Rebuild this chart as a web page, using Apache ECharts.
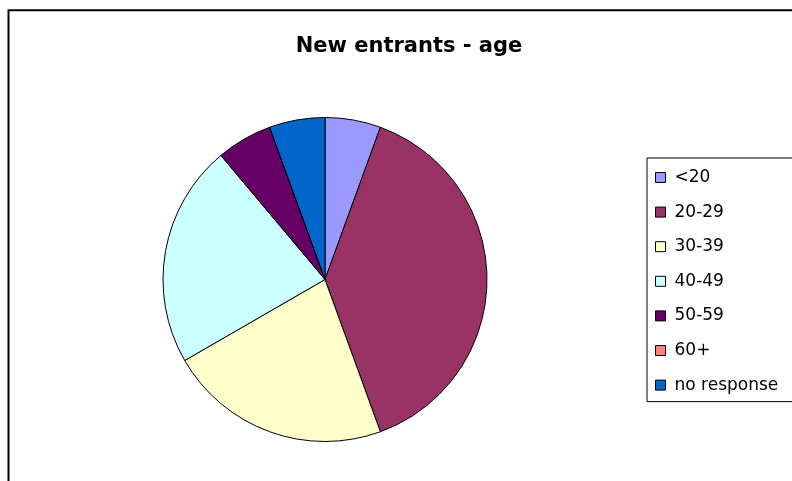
<!DOCTYPE html>
<html>
<head>
<meta charset="utf-8">
<title>New entrants - age</title>
<script src="https://cdn.jsdelivr.net/npm/echarts@6/dist/echarts.min.js"></script>
<style>
  html, body { margin: 0; padding: 0; background: #ffffff; }
  #chart { width: 792px; height: 481px; }
</style>
</head>
<body>
<div id="chart"></div>
<script>
// Age groups of new entrants (number of respondents)
const categories = ['<20', '20-29', '30-39', '40-49', '50-59', '60+', 'no response'];
const counts = [1, 7, 4, 4, 1, 0, 1];
const sliceColors = ['#9999FF', '#993366', '#FFFFCC', '#CCFFFF', '#660066', '#FF8080', '#0066CC'];

const chart = echarts.init(document.getElementById('chart'), null, { renderer: 'canvas' });

const pieData = categories.map((name, i) => ({
  name: name,
  value: counts[i],
  itemStyle: { color: sliceColors[i] }
}));

chart.setOption({
  backgroundColor: '#ffffff',
  animation: false,
  title: {
    text: 'New entrants - age',
    left: 404,
    top: 31,
    textAlign: 'center',
    textStyle: {
      fontFamily: 'DejaVu Sans',
      fontWeight: 'bold',
      fontSize: 21,
      color: '#000000'
    }
  },
  graphic: [
    {
      type: 'rect',
      silent: true,
      shape: { x: 8.5, y: 10.3, width: 900, height: 600 },
      style: { fill: 'none', stroke: '#000000', lineWidth: 2 }
    }
  ],
  legend: {
    orient: 'vertical',
    left: 647,
    top: 158,
    padding: [11, 40, 8, 8],
    itemGap: 17.6,
    itemWidth: 10,
    itemHeight: 10,
    icon: 'rect',
    selectedMode: false,
    borderColor: '#000000',
    borderWidth: 1,
    itemStyle: { borderColor: '#000000', borderWidth: 1 },
    textStyle: {
      fontFamily: 'DejaVu Sans',
      fontSize: 17,
      lineHeight: 17,
      color: '#000000',
      padding: [0, 0, 0, 4]
    },
    data: categories
  },
  series: [
    {
      type: 'pie',
      center: [325, 279.5],
      radius: 162,
      startAngle: 90,
      clockwise: true,
      avoidLabelOverlap: false,
      label: { show: false },
      labelLine: { show: false },
      emphasis: { disabled: true },
      itemStyle: { borderColor: '#000000', borderWidth: 1 },
      data: pieData
    }
  ]
});
</script>
</body>
</html>
